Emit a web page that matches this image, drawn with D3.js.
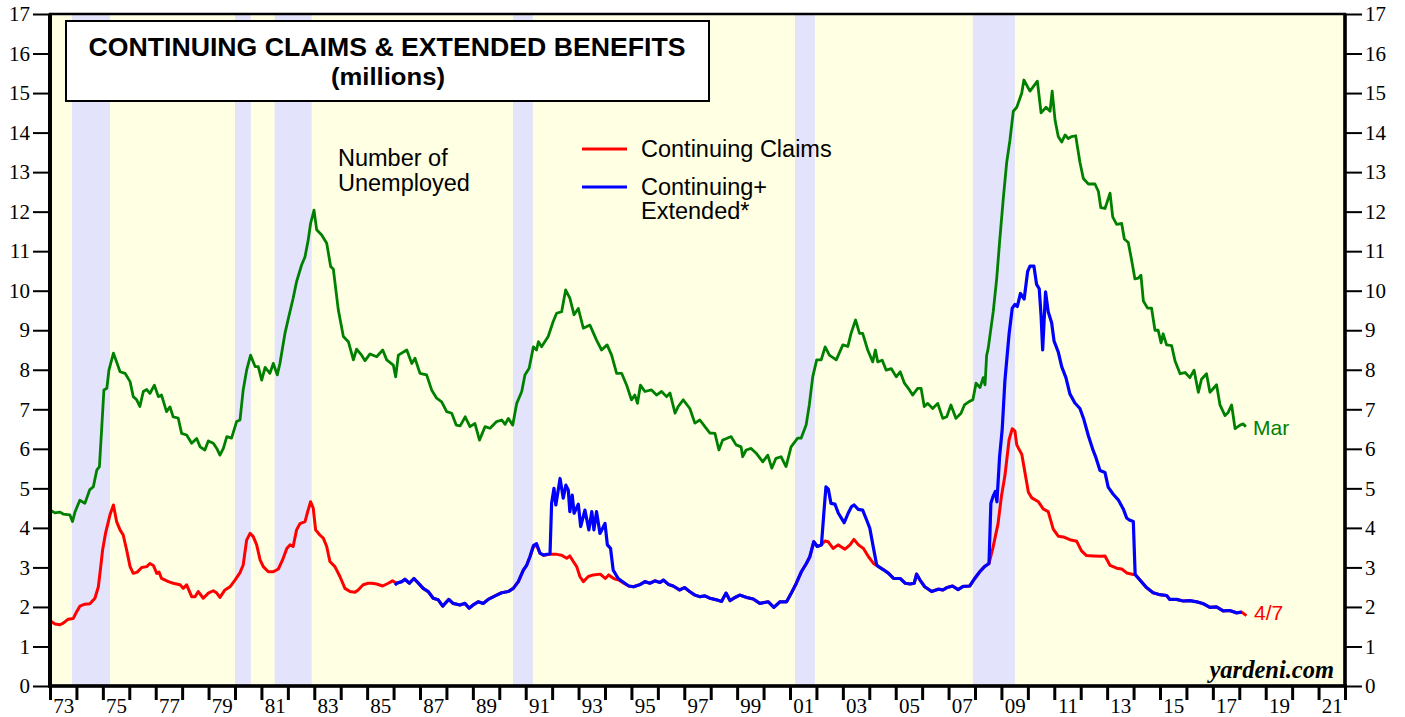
<!DOCTYPE html>
<html>
<head>
<meta charset="utf-8">
<script src="https://cdn.jsdelivr.net/npm/d3@7"></script>
<style>
  body { margin: 0; background: #fff; }
  svg { display: block; }
</style>
</head>
<body>
<div id="chart"></div>
<script>
// ---- data (millions), [decimal year, value] ----
const unemployed = [[1973.0,4.45],[1973.19,4.38],[1973.38,4.4],[1973.5,4.35],[1973.75,4.33],[1973.85,4.16],[1973.95,4.41],[1974.13,4.7],[1974.32,4.62],[1974.5,4.96],[1974.64,5.04],[1974.77,5.46],[1974.87,5.55],[1974.96,6.56],[1975.04,7.49],[1975.15,7.53],[1975.23,7.99],[1975.4,8.42],[1975.52,8.2],[1975.65,7.95],[1975.84,7.91],[1976.03,7.7],[1976.15,7.32],[1976.28,7.24],[1976.4,7.07],[1976.53,7.45],[1976.66,7.5],[1976.78,7.4],[1976.95,7.61],[1977.1,7.32],[1977.22,7.36],[1977.41,6.94],[1977.54,7.06],[1977.66,6.81],[1977.85,6.78],[1977.98,6.39],[1978.17,6.35],[1978.36,6.14],[1978.55,6.26],[1978.68,6.05],[1978.86,5.97],[1978.99,6.2],[1979.18,6.14],[1979.31,6.01],[1979.43,5.84],[1979.56,6.01],[1979.69,6.31],[1979.87,6.27],[1980.06,6.69],[1980.19,6.73],[1980.31,7.49],[1980.44,7.99],[1980.59,8.37],[1980.76,8.08],[1980.88,8.08],[1981.01,7.74],[1981.14,8.06],[1981.32,7.91],[1981.45,8.16],[1981.6,7.87],[1981.7,8.16],[1981.89,8.92],[1982.02,9.3],[1982.2,9.81],[1982.33,10.23],[1982.52,10.65],[1982.65,10.86],[1982.77,11.28],[1982.86,11.7],[1982.99,12.04],[1983.09,11.54],[1983.28,11.41],[1983.47,11.2],[1983.62,10.61],[1983.72,10.55],[1983.91,9.51],[1984.1,8.84],[1984.29,8.71],[1984.48,8.25],[1984.6,8.52],[1984.79,8.37],[1984.92,8.23],[1985.11,8.4],[1985.36,8.33],[1985.59,8.5],[1985.74,8.25],[1985.99,8.12],[1986.08,7.82],[1986.18,8.37],[1986.5,8.5],[1986.69,8.16],[1986.81,8.29],[1987.0,7.91],[1987.25,7.87],[1987.44,7.49],[1987.63,7.28],[1987.82,7.19],[1988.01,6.94],[1988.2,6.9],[1988.37,6.6],[1988.52,6.58],[1988.71,6.81],[1988.89,6.56],[1989.08,6.64],[1989.25,6.22],[1989.46,6.56],[1989.65,6.52],[1989.9,6.69],[1990.09,6.73],[1990.22,6.62],[1990.34,6.77],[1990.51,6.6],[1990.66,7.15],[1990.85,7.45],[1990.97,7.87],[1991.13,8.04],[1991.29,8.58],[1991.41,8.5],[1991.48,8.71],[1991.6,8.58],[1991.85,8.84],[1992.04,9.22],[1992.17,9.43],[1992.36,9.47],[1992.51,10.02],[1992.67,9.81],[1992.83,9.39],[1992.99,9.55],[1993.18,9.05],[1993.43,9.13],[1993.68,8.75],[1993.87,8.5],[1994.08,8.63],[1994.25,8.37],[1994.44,7.91],[1994.63,7.91],[1994.82,7.61],[1995.0,7.24],[1995.13,7.36],[1995.23,7.15],[1995.34,7.61],[1995.51,7.45],[1995.76,7.49],[1995.95,7.36],[1996.14,7.45],[1996.33,7.32],[1996.46,7.41],[1996.65,6.9],[1996.77,7.07],[1996.96,7.24],[1997.21,7.02],[1997.4,6.65],[1997.59,6.73],[1997.78,6.56],[1997.97,6.4],[1998.16,6.39],[1998.31,5.97],[1998.45,6.22],[1998.6,6.26],[1998.77,6.31],[1998.96,6.1],[1999.15,6.05],[1999.21,5.8],[1999.34,5.97],[1999.53,6.01],[1999.72,5.89],[1999.97,5.67],[2000.16,5.84],[2000.31,5.51],[2000.47,5.76],[2000.66,5.8],[2000.85,5.55],[2001.04,6.05],[2001.29,6.27],[2001.42,6.27],[2001.61,6.6],[2001.73,7.11],[2001.86,7.82],[2002.01,8.25],[2002.18,8.25],[2002.33,8.58],[2002.49,8.37],[2002.75,8.25],[2003.0,8.63],[2003.19,8.59],[2003.31,8.92],[2003.48,9.26],[2003.63,8.92],[2003.75,8.92],[2003.94,8.5],[2004.13,8.2],[2004.23,8.5],[2004.32,8.2],[2004.49,8.24],[2004.64,7.99],[2004.83,8.03],[2005.02,7.82],[2005.17,7.95],[2005.33,7.66],[2005.52,7.49],[2005.64,7.36],[2005.83,7.53],[2005.96,7.53],[2006.08,7.07],[2006.21,7.15],[2006.4,7.02],[2006.59,7.15],[2006.78,6.77],[2006.93,6.81],[2007.09,7.11],[2007.28,6.77],[2007.47,6.9],[2007.6,7.11],[2007.79,7.2],[2007.92,7.24],[2008.04,7.66],[2008.19,7.55],[2008.31,7.8],[2008.38,7.62],[2008.44,8.36],[2008.5,8.54],[2008.69,9.47],[2008.82,10.3],[2008.94,11.31],[2009.07,12.33],[2009.2,13.25],[2009.32,13.8],[2009.45,14.54],[2009.58,14.64],[2009.77,15.0],[2009.85,15.33],[2010.08,15.05],[2010.36,15.3],[2010.5,14.5],[2010.69,14.64],[2010.84,14.54],[2010.92,15.05],[2011.03,14.31],[2011.15,13.9],[2011.28,13.76],[2011.41,13.94],[2011.53,13.85],[2011.66,13.9],[2011.81,13.92],[2011.97,13.25],[2012.1,12.84],[2012.29,12.7],[2012.54,12.7],[2012.67,12.51],[2012.76,12.1],[2012.92,12.08],[2013.11,12.47],[2013.21,11.87],[2013.36,11.68],[2013.55,11.7],[2013.65,11.31],[2013.8,11.22],[2013.93,10.76],[2014.05,10.3],[2014.18,10.32],[2014.28,10.39],[2014.37,9.74],[2014.53,9.56],[2014.68,9.56],[2014.81,9.0],[2014.93,9.0],[2015.04,8.68],[2015.12,8.91],[2015.25,8.63],[2015.44,8.61],[2015.57,8.22],[2015.76,7.9],[2015.95,7.93],[2016.13,7.8],[2016.29,7.99],[2016.45,7.43],[2016.57,7.76],[2016.76,7.9],[2016.89,7.43],[2017.01,7.52],[2017.14,7.62],[2017.27,7.11],[2017.46,6.84],[2017.58,6.92],[2017.71,7.11],[2017.84,6.51],[2018.03,6.6],[2018.15,6.63],[2018.25,6.56]];

const continuing = [[1973.0,1.65],[1973.19,1.57],[1973.38,1.55],[1973.5,1.59],[1973.69,1.69],[1973.88,1.71],[1974.01,1.88],[1974.13,2.02],[1974.32,2.07],[1974.51,2.08],[1974.7,2.22],[1974.83,2.51],[1974.92,3.02],[1974.99,3.44],[1975.1,3.86],[1975.27,4.33],[1975.4,4.58],[1975.52,4.16],[1975.65,3.95],[1975.77,3.82],[1975.9,3.44],[1976.03,3.02],[1976.15,2.85],[1976.3,2.88],[1976.47,3.0],[1976.66,3.02],[1976.78,3.1],[1976.91,3.05],[1977.04,2.85],[1977.13,2.88],[1977.22,2.72],[1977.48,2.64],[1977.66,2.6],[1977.92,2.56],[1978.04,2.47],[1978.17,2.56],[1978.36,2.26],[1978.49,2.26],[1978.61,2.39],[1978.8,2.22],[1978.99,2.35],[1979.18,2.41],[1979.31,2.35],[1979.43,2.24],[1979.62,2.43],[1979.81,2.51],[1980.0,2.68],[1980.19,2.87],[1980.31,3.06],[1980.44,3.69],[1980.57,3.86],[1980.69,3.78],[1980.82,3.57],[1980.95,3.19],[1981.07,3.02],[1981.26,2.89],[1981.45,2.89],[1981.64,2.96],[1981.8,3.19],[1981.96,3.48],[1982.08,3.57],[1982.2,3.53],[1982.33,3.95],[1982.46,4.11],[1982.65,4.16],[1982.75,4.41],[1982.86,4.66],[1982.96,4.5],[1983.05,3.95],[1983.21,3.82],[1983.34,3.74],[1983.47,3.53],[1983.59,3.15],[1983.78,3.02],[1983.97,2.77],[1984.16,2.47],[1984.35,2.39],[1984.54,2.37],[1984.66,2.43],[1984.85,2.56],[1985.04,2.6],[1985.17,2.6],[1985.36,2.58],[1985.59,2.53],[1985.8,2.6],[1985.96,2.66],[1986.12,2.6],[1986.31,2.64],[1986.43,2.7],[1986.6,2.6],[1986.77,2.72],[1986.94,2.6],[1987.12,2.47],[1987.31,2.39],[1987.5,2.22],[1987.69,2.18],[1987.86,2.02],[1987.94,2.08],[1988.09,2.19],[1988.25,2.09],[1988.51,2.05],[1988.7,2.09],[1988.86,1.97],[1989.01,2.05],[1989.2,2.13],[1989.39,2.09],[1989.58,2.19],[1989.84,2.28],[1990.09,2.36],[1990.34,2.39],[1990.53,2.47],[1990.72,2.64],[1990.91,2.93],[1991.04,3.06],[1991.16,3.27],[1991.29,3.52],[1991.41,3.57],[1991.54,3.36],[1991.67,3.31],[1991.92,3.33],[1992.17,3.33],[1992.36,3.31],[1992.55,3.23],[1992.67,3.29],[1992.8,3.15],[1992.93,3.02],[1993.05,2.77],[1993.18,2.64],[1993.37,2.77],[1993.56,2.81],[1993.82,2.83],[1994.01,2.72],[1994.14,2.81],[1994.33,2.72],[1994.52,2.68],[1994.71,2.6],[1994.9,2.53],[1995.08,2.51],[1995.34,2.57],[1995.51,2.64],[1995.7,2.6],[1995.89,2.66],[1996.08,2.62],[1996.21,2.68],[1996.4,2.57],[1996.58,2.53],[1996.82,2.43],[1997.01,2.49],[1997.2,2.39],[1997.4,2.3],[1997.59,2.26],[1997.78,2.28],[1997.97,2.22],[1998.22,2.18],[1998.41,2.14],[1998.58,2.35],[1998.73,2.16],[1998.92,2.24],[1999.1,2.3],[1999.36,2.24],[1999.61,2.2],[1999.86,2.09],[2000.18,2.13],[2000.39,1.99],[2000.62,2.13],[2000.87,2.13],[2001.05,2.35],[2001.24,2.6],[2001.43,2.89],[2001.62,3.1],[2001.75,3.27],[2001.9,3.65],[2002.03,3.53],[2002.19,3.57],[2002.32,3.67],[2002.44,3.65],[2002.63,3.48],[2002.82,3.57],[2003.08,3.46],[2003.27,3.57],[2003.42,3.71],[2003.59,3.57],[2003.78,3.48],[2003.97,3.27],[2004.16,3.1],[2004.35,3.02],[2004.54,2.94],[2004.73,2.85],[2004.92,2.72],[2005.17,2.72],[2005.36,2.6],[2005.55,2.58],[2005.7,2.6],[2005.79,2.83],[2005.92,2.68],[2006.1,2.51],[2006.36,2.39],[2006.61,2.45],[2006.79,2.43],[2006.94,2.49],[2007.15,2.53],[2007.36,2.44],[2007.55,2.52],[2007.8,2.53],[2007.99,2.72],[2008.18,2.89],[2008.36,3.02],[2008.53,3.1],[2008.68,3.5],[2008.87,4.1],[2009.0,4.8],[2009.13,5.31],[2009.29,6.23],[2009.41,6.51],[2009.51,6.45],[2009.58,6.1],[2009.77,5.86],[2009.89,5.4],[2010.02,4.9],[2010.15,4.76],[2010.4,4.66],[2010.58,4.48],[2010.77,4.41],[2010.96,3.97],[2011.15,3.79],[2011.34,3.77],[2011.59,3.7],[2011.85,3.66],[2012.03,3.42],[2012.22,3.3],[2012.47,3.29],[2012.73,3.28],[2012.92,3.29],[2013.11,3.05],[2013.36,2.98],[2013.55,2.96],[2013.74,2.86],[2013.99,2.82],[2014.06,2.82],[2014.24,2.68],[2014.49,2.49],[2014.74,2.36],[2014.99,2.31],[2015.25,2.29],[2015.37,2.19],[2015.63,2.19],[2015.88,2.15],[2016.13,2.16],[2016.39,2.13],[2016.64,2.08],[2016.89,1.99],[2017.14,2.0],[2017.39,1.9],[2017.64,1.91],[2017.9,1.85],[2018.09,1.87],[2018.27,1.78]];

const continuingExtended = [[1986.05,2.55],[1986.12,2.6],[1986.31,2.64],[1986.43,2.7],[1986.6,2.6],[1986.77,2.72],[1986.94,2.6],[1987.12,2.47],[1987.31,2.39],[1987.5,2.22],[1987.69,2.18],[1987.86,2.02],[1987.94,2.08],[1988.09,2.19],[1988.25,2.09],[1988.51,2.05],[1988.7,2.09],[1988.86,1.97],[1989.01,2.05],[1989.2,2.13],[1989.39,2.09],[1989.58,2.19],[1989.84,2.28],[1990.09,2.36],[1990.34,2.39],[1990.53,2.47],[1990.72,2.64],[1990.91,2.93],[1991.04,3.06],[1991.16,3.27],[1991.29,3.55],[1991.41,3.6],[1991.54,3.36],[1991.67,3.31],[1991.92,3.35],[1991.98,4.62],[1992.07,5.0],[1992.14,4.58],[1992.3,5.25],[1992.42,4.75],[1992.52,5.08],[1992.61,4.96],[1992.67,4.41],[1992.76,4.83],[1992.83,4.37],[1992.99,4.6],[1993.08,4.03],[1993.24,4.45],[1993.39,3.95],[1993.5,4.41],[1993.58,3.95],[1993.68,4.41],[1993.81,3.86],[1994.0,4.11],[1994.09,3.57],[1994.21,3.48],[1994.31,2.93],[1994.5,2.72],[1994.71,2.62],[1994.9,2.53],[1995.08,2.51],[1995.34,2.57],[1995.51,2.64],[1995.7,2.6],[1995.89,2.66],[1996.08,2.62],[1996.21,2.68],[1996.4,2.57],[1996.58,2.53],[1996.82,2.43],[1997.01,2.49],[1997.2,2.39],[1997.4,2.3],[1997.59,2.26],[1997.78,2.28],[1997.97,2.22],[1998.22,2.18],[1998.41,2.14],[1998.58,2.35],[1998.73,2.16],[1998.92,2.24],[1999.1,2.3],[1999.36,2.24],[1999.61,2.2],[1999.86,2.09],[2000.18,2.13],[2000.39,1.99],[2000.62,2.13],[2000.87,2.13],[2001.05,2.35],[2001.24,2.6],[2001.43,2.89],[2001.62,3.1],[2001.75,3.27],[2001.9,3.65],[2002.03,3.53],[2002.19,3.57],[2002.28,4.37],[2002.36,5.04],[2002.45,4.98],[2002.55,4.62],[2002.7,4.6],[2002.83,4.37],[2002.95,4.24],[2003.05,4.13],[2003.2,4.37],[2003.33,4.54],[2003.43,4.58],[2003.58,4.47],[2003.75,4.45],[2003.9,4.2],[2004.02,3.99],[2004.15,3.52],[2004.28,3.06],[2004.35,3.02],[2004.54,2.94],[2004.73,2.85],[2004.92,2.72],[2005.17,2.72],[2005.36,2.6],[2005.55,2.58],[2005.7,2.6],[2005.79,2.83],[2005.92,2.68],[2006.1,2.51],[2006.36,2.39],[2006.61,2.45],[2006.79,2.43],[2006.94,2.49],[2007.15,2.53],[2007.36,2.44],[2007.55,2.52],[2007.8,2.53],[2007.99,2.72],[2008.18,2.89],[2008.36,3.02],[2008.53,3.1],[2008.6,4.62],[2008.68,4.79],[2008.77,4.92],[2008.83,4.66],[2008.93,5.8],[2009.03,6.5],[2009.13,7.71],[2009.29,8.91],[2009.41,9.56],[2009.51,9.65],[2009.6,9.6],[2009.72,9.93],[2009.86,9.79],[2009.99,10.48],[2010.08,10.62],[2010.23,10.62],[2010.33,10.16],[2010.43,10.05],[2010.5,9.37],[2010.56,8.5],[2010.67,9.97],[2010.77,9.47],[2010.9,9.19],[2010.99,8.73],[2011.15,8.45],[2011.28,8.08],[2011.44,7.8],[2011.59,7.39],[2011.78,7.16],[2011.97,7.02],[2012.12,6.74],[2012.29,6.33],[2012.47,5.96],[2012.58,5.77],[2012.73,5.45],[2012.92,5.4],[2013.04,5.03],[2013.23,4.85],[2013.42,4.71],[2013.61,4.48],[2013.74,4.25],[2013.84,4.2],[2013.99,4.16],[2014.06,2.82],[2014.24,2.68],[2014.49,2.49],[2014.74,2.36],[2014.99,2.31],[2015.25,2.29],[2015.37,2.19],[2015.63,2.19],[2015.88,2.15],[2016.13,2.16],[2016.39,2.13],[2016.64,2.08],[2016.89,1.99],[2017.14,2.0],[2017.39,1.9],[2017.64,1.91],[2017.9,1.85],[2018.09,1.87]];

const recessionStart = [1973.83, 1980.0, 1981.5, 1990.52, 2001.19, 2007.92];
const recessionEnd = [1975.27, 1980.6, 1982.9, 1991.27, 2001.94, 2009.51];

const yTicks = d3.range(0, 18);
const yearTicks = d3.range(1973, 2023);
const labelYears = d3.range(1973, 2022, 2);

// ---- layout ----
const W = 1405, H = 717;
const m = { left: 50, right: 60, top: 14, bottom: 31 };
const x = d3.scaleLinear().domain([1973, 2022]).range([m.left, W - m.right]);
const y = d3.scaleLinear().domain([0, 17]).range([H - m.bottom, m.top]);

const svg = d3.select("#chart").append("svg")
  .attr("width", W)
  .attr("height", H);

svg.append("defs").append("clipPath").attr("id", "plotclip")
  .append("rect")
  .attr("x", x(1973)).attr("y", y(17))
  .attr("width", x(2022) - x(1973)).attr("height", y(0) - y(17));

svg.append("rect")
  .attr("x", x(1973)).attr("y", y(17))
  .attr("width", x(2022) - x(1973)).attr("height", y(0) - y(17))
  .attr("fill", "#ffffe3");

svg.append("g").selectAll("rect")
  .data(recessionStart)
  .join("rect")
  .attr("x", d => x(d))
  .attr("y", y(17))
  .attr("width", (d, i) => x(recessionEnd[i]) - x(d))
  .attr("height", y(0) - y(17))
  .attr("fill", "#e3e3fb");

// axes
const serif = "'Liberation Serif', 'Times New Roman', serif";
const sans = "'Liberation Sans', Arial, Helvetica, sans-serif";

const leftAxis = svg.append("g")
  .attr("transform", `translate(${x(1973)},0)`)
  .call(d3.axisLeft(y).tickValues(yTicks).tickSize(17).tickPadding(3).tickFormat(d3.format("d")));
const rightAxis = svg.append("g")
  .attr("transform", `translate(${x(2022)},0)`)
  .call(d3.axisRight(y).tickValues(yTicks).tickSize(17).tickPadding(3).tickFormat(d3.format("d")));
[leftAxis, rightAxis].forEach(g => {
  g.select(".domain").remove();
  g.selectAll(".tick line").attr("stroke", "#000").attr("stroke-width", 2);
  g.selectAll(".tick text").attr("font-family", serif).attr("font-size", 21).attr("fill", "#000");
});

const xTickAxis = svg.append("g")
  .attr("transform", `translate(0,${y(0)})`)
  .call(d3.axisBottom(x).tickValues(yearTicks).tickSize(14).tickFormat(""));
xTickAxis.select(".domain").remove();
xTickAxis.selectAll(".tick line").attr("stroke", "#000").attr("stroke-width", 3);

const xLabelAxis = svg.append("g")
  .attr("transform", `translate(0,${y(0)})`)
  .call(d3.axisBottom(x).tickValues(labelYears.map(d => d + 0.5)).tickSize(0).tickPadding(12)
    .tickFormat(d => String(Math.floor(d) % 100).padStart(2, "0")));
xLabelAxis.select(".domain").remove();
xLabelAxis.selectAll(".tick text").attr("font-family", serif).attr("font-size", 21).attr("fill", "#000");

// lines
const line = d3.line().x(d => x(d[0])).y(d => y(d[1]));
const plot = svg.append("g").attr("clip-path", "url(#plotclip)");
plot.append("path").datum(unemployed)
  .attr("d", line).attr("fill", "none").attr("stroke", "#008000")
  .attr("stroke-width", 2.8).attr("stroke-linejoin", "round");
plot.append("path").datum(continuing)
  .attr("d", line).attr("fill", "none").attr("stroke", "#ff0000")
  .attr("stroke-width", 3).attr("stroke-linejoin", "round");
plot.append("path").datum(continuingExtended)
  .attr("d", line).attr("fill", "none").attr("stroke", "#0000ff")
  .attr("stroke-width", 3.2).attr("stroke-linejoin", "round");

// frame
svg.append("rect")
  .attr("x", x(1973)).attr("y", y(17))
  .attr("width", x(2022) - x(1973)).attr("height", y(0) - y(17))
  .attr("fill", "none").attr("stroke", "#000").attr("stroke-width", 2.5);
svg.append("line")
  .attr("x1", x(1973)).attr("x2", x(1973)).attr("y1", y(17)).attr("y2", y(0) + 1)
  .attr("stroke", "#000").attr("stroke-width", 4);
svg.append("line")
  .attr("x1", x(2022)).attr("x2", x(2022)).attr("y1", y(17)).attr("y2", y(0) + 1)
  .attr("stroke", "#000").attr("stroke-width", 3.5);
svg.append("line")
  .attr("x1", x(1973) - 2).attr("x2", x(2022) + 2).attr("y1", y(0)).attr("y2", y(0))
  .attr("stroke", "#000").attr("stroke-width", 3.5);

// title box
svg.append("rect")
  .attr("x", 66).attr("y", 21).attr("width", 643).attr("height", 80)
  .attr("fill", "#fff").attr("stroke", "#000").attr("stroke-width", 2);
svg.append("text")
  .attr("x", 387).attr("y", 56).attr("text-anchor", "middle")
  .attr("font-family", sans).attr("font-weight", "bold").attr("font-size", 25)
  .attr("textLength", 597).attr("lengthAdjust", "spacingAndGlyphs")
  .text("CONTINUING CLAIMS & EXTENDED BENEFITS");
svg.append("text")
  .attr("x", 388).attr("y", 85).attr("text-anchor", "middle")
  .attr("font-family", sans).attr("font-weight", "bold").attr("font-size", 24)
  .attr("textLength", 114).attr("lengthAdjust", "spacingAndGlyphs")
  .text("(millions)");

// annotations
const note = svg.append("text").attr("font-family", sans).attr("font-size", 23.5).attr("fill", "#000");
note.append("tspan").attr("x", 338).attr("y", 166).text("Number of");
note.append("tspan").attr("x", 338).attr("y", 191).text("Unemployed");

const legend = svg.append("g").attr("font-family", sans).attr("font-size", 23.5);
legend.append("line").attr("x1", 582).attr("x2", 627).attr("y1", 149).attr("y2", 149)
  .attr("stroke", "#ff0000").attr("stroke-width", 3);
legend.append("text").attr("x", 641).attr("y", 157).text("Continuing Claims");
legend.append("line").attr("x1", 582).attr("x2", 627).attr("y1", 187).attr("y2", 187)
  .attr("stroke", "#0000ff").attr("stroke-width", 3);
const lt = legend.append("text");
lt.append("tspan").attr("x", 641).attr("y", 195).text("Continuing+");
lt.append("tspan").attr("x", 641).attr("y", 219).text("Extended*");

svg.append("text").attr("x", 1253).attr("y", 435)
  .attr("font-family", sans).attr("font-size", 21).attr("fill", "#008000").text("Mar");
svg.append("text").attr("x", 1254).attr("y", 620)
  .attr("font-family", sans).attr("font-size", 21).attr("fill", "#ff0000").text("4/7");

svg.append("text").attr("x", 1334).attr("y", 678).attr("text-anchor", "end")
  .attr("font-family", serif).attr("font-weight", "bold").attr("font-style", "italic")
  .attr("font-size", 24.5).attr("fill", "#000").text("yardeni.com");
</script>
</body>
</html>
